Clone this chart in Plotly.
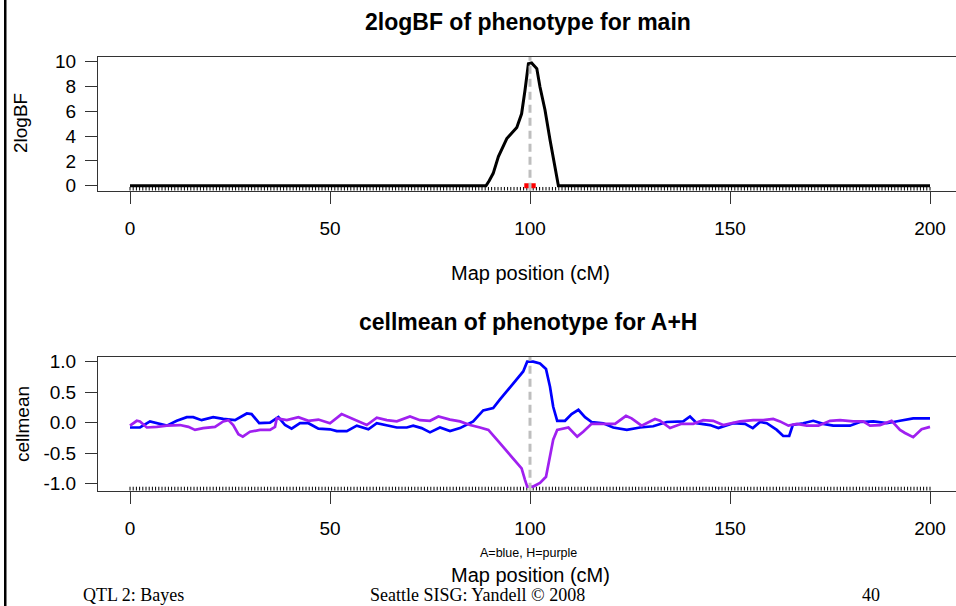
import numpy as np
import plotly.graph_objects as go

# 2logBF profile along the chromosome (cM, 2logBF)
bf_pos = [0, 89.0, 89.8, 90.8, 92.1, 94.2, 96.7, 97.9, 98.75, 99.6, 100.4,
          101.7, 102.5, 103.75, 105.0, 106.25, 107.1, 200]
bf_val = [0, 0, 0.4, 1.0, 2.35, 3.8, 4.7, 5.8, 7.7, 9.84, 9.9,
          9.44, 7.96, 6.1, 3.7, 1.3, 0, 0]

# cell means for genotype A (blue)
a_pos = [0, 2.5, 5, 7.1, 9.2, 11.7, 14.2, 15.8, 17.9, 20.8, 23.3, 26.25, 29.2,
         30.4, 32.3, 35, 37.1, 38.75, 40.4, 42.5, 44.6, 47.1, 50, 51.7, 54.2,
         56.7, 59.6, 61.7, 64.2, 66.7, 69.2, 70.8, 72.9, 75, 77.5, 80, 82.5,
         85.8, 88.3, 90.8, 92.5, 95.8, 98.3, 99.3, 100.8, 102.5, 104, 105,
         105.8, 106.8, 108.75, 110.4, 112.1, 113.75, 115.4, 118.3, 120.8,
         124.2, 127.5, 130.8, 134.2, 138.3, 140, 141.7, 145, 147.1, 150.8,
         153.75, 155.7, 157.5, 159.2, 161.7, 163.3, 164.8, 165.7, 168.3,
         170.8, 173.3, 175.8, 180, 182.5, 185.8, 189.2, 192.5, 195.8, 200]
a_val = [-0.08, -0.08, 0.02, -0.02, -0.05, 0.03, 0.09, 0.09, 0.04, 0.09, 0.06,
         0.04, 0.15, 0.14, -0.01, 0.0, 0.09, -0.04, -0.1, -0.01, -0.01, -0.1,
         -0.11, -0.14, -0.14, -0.05, -0.11, -0.01, -0.05, -0.08, -0.08, -0.05,
         -0.09, -0.16, -0.08, -0.14, -0.09, 0.02, 0.2, 0.24, 0.38, 0.65, 0.84,
         1.0, 1.0, 0.97, 0.88, 0.59, 0.26, 0.03, 0.03, 0.14, 0.21, 0.09, 0.01,
         -0.01, -0.08, -0.12, -0.08, -0.06, 0.01, 0.02, 0.1, -0.01, -0.04,
         -0.09, -0.01, -0.02, -0.09, 0.01, -0.01, -0.12, -0.22, -0.22, -0.04,
         -0.01, 0.03, -0.02, -0.05, -0.05, 0.01, 0.02, -0.01, 0.03, 0.07, 0.07]

# cell means for genotype H (purple)
h_pos = [0, 1.7, 2.5, 4.2, 6.7, 9.2, 12.5, 14.6, 16.25, 18.3, 21.25, 23.3,
         24.6, 25.8, 27.1, 28.2, 30, 32.5, 35, 36.25, 36.7, 39.2, 42.1, 44.6,
         47.1, 50, 52.9, 55.8, 59.2, 61.7, 64.2, 66.7, 70, 72.5, 75, 77.1, 80,
         82.5, 85, 87.5, 89.6, 92.1, 95, 97.9, 98.75, 99.3, 100.8, 102.5, 104,
         105, 105.8, 106.8, 109.6, 111.8, 113.3, 115.4, 119.2, 121.25, 124,
         125.4, 127.9, 131.25, 132.5, 135, 137.9, 140.8, 143.3, 145.8, 148.3,
         152.5, 155.8, 158.3, 160.8, 162.5, 164.6, 166.7, 169.2, 172.1, 175,
         177.5, 180.8, 183.3, 185, 187.5, 190.4, 192.5, 193.75, 195.8, 197.9,
         200]
h_val = [-0.05, 0.03, 0.02, -0.08, -0.07, -0.05, -0.04, -0.07, -0.12, -0.09,
         -0.07, 0.02, 0.04, -0.04, -0.19, -0.23, -0.15, -0.12, -0.12, -0.07,
         0.07, 0.04, 0.09, 0.03, 0.05, -0.01, 0.14, 0.06, -0.04, 0.08, 0.04,
         0.02, 0.1, 0.04, 0.03, 0.1, 0.05, 0.02, -0.04, -0.08, -0.12, -0.31,
         -0.53, -0.75, -0.94, -1.05, -1.05, -0.99, -0.89, -0.56, -0.28, -0.12,
         -0.08, -0.23, -0.15, -0.02, -0.02, -0.02, 0.11, 0.07, -0.05, 0.06,
         0.03, -0.09, -0.02, -0.02, 0.04, 0.03, -0.04, 0.02, 0.04, 0.04, 0.06,
         0.02, -0.05, -0.02, -0.05, -0.05, 0.03, 0.04, 0.02, 0.02, -0.05,
         -0.04, 0.03, -0.12, -0.17, -0.24, -0.11, -0.07]

# estimated QTL location and sampled QTL positions
qtl_pos = 100
qtl_hits = [99.2, 100.8]

# marker / pseudomarker grid shown as a rug
grid_step = 0.8
grid_pos = np.round(np.arange(0, 200 + 1e-9, grid_step), 2)

x_ticks = [0, 50, 100, 150, 200]
bf_ticks = [0, 2, 4, 6, 8, 10]
cm_ticks = [-1.0, -0.5, 0.0, 0.5, 1.0]
cm_tick_text = ["-1.0", "-0.5", "0.0", "0.5", "1.0"]

W, H = 956, 606
SANS = "Liberation Sans, Arial, sans-serif"
SERIF = "Liberation Serif, Times New Roman, serif"
AXIS_COL = "#333333"

bf_range = [-0.4, 10.4]
cm_range = [-1.118, 1.082]
x_range = [-8, 206.5]


def fx(p):
    return p / W


def fy(p):
    return 1 - p / H


def rug(ymin, ymax):
    xs, ys = [], []
    for g in grid_pos:
        xs += [g, g, None]
        ys += [ymin, ymax, None]
    return xs, ys


fig = go.Figure()

# top panel: 2logBF
rx, ry = rug(bf_range[0], bf_range[0] + 0.3)
fig.add_trace(go.Scatter(x=rx, y=ry, mode="lines", line=dict(color="black", width=1),
                         xaxis="x", yaxis="y", hoverinfo="skip"))
fig.add_trace(go.Scatter(x=bf_pos, y=bf_val, mode="lines",
                         line=dict(color="black", width=3), xaxis="x", yaxis="y"))
fig.add_trace(go.Scatter(x=qtl_hits, y=[0] * len(qtl_hits), mode="markers",
                         marker=dict(color="red", size=5, symbol="square"),
                         xaxis="x", yaxis="y"))
fig.add_trace(go.Scatter(x=[qtl_pos, qtl_pos], y=bf_range, mode="lines",
                         line=dict(color="#BEBEBE", width=3, dash="8px,5px"),
                         xaxis="x", yaxis="y"))

# bottom panel: cell means
rx2, ry2 = rug(cm_range[0], cm_range[0] + 0.065)
fig.add_trace(go.Scatter(x=rx2, y=ry2, mode="lines", line=dict(color="black", width=1),
                         xaxis="x2", yaxis="y2", hoverinfo="skip"))
fig.add_trace(go.Scatter(x=a_pos, y=a_val, mode="lines",
                         line=dict(color="#0000FF", width=2.7), xaxis="x2", yaxis="y2"))
fig.add_trace(go.Scatter(x=h_pos, y=h_val, mode="lines",
                         line=dict(color="#A020F0", width=2.7), xaxis="x2", yaxis="y2"))
fig.add_trace(go.Scatter(x=[qtl_pos, qtl_pos], y=cm_range, mode="lines",
                         line=dict(color="#BEBEBE", width=3, dash="8px,5px"),
                         xaxis="x2", yaxis="y2"))

xaxis_common = dict(
    domain=[fx(98), 1], range=x_range, tickvals=x_ticks, ticks="outside",
    ticklen=12, tickwidth=1, tickcolor=AXIS_COL, showline=True, linecolor=AXIS_COL,
    linewidth=1, mirror=True, showgrid=False, zeroline=False, automargin=False,
    tickfont=dict(family=SANS, size=19, color="black"), ticklabelstandoff=8,
)
yaxis_common = dict(
    ticks="outside", ticklen=12, tickwidth=1, tickcolor=AXIS_COL, showline=True,
    linecolor=AXIS_COL, linewidth=1, showgrid=False, zeroline=False, automargin=False,
    tickfont=dict(family=SANS, size=19, color="black"), ticklabelstandoff=5,
)

fig.update_layout(
    template="none",
    width=W, height=H, margin=dict(l=0, r=0, t=0, b=0, pad=0), autosize=False,
    paper_bgcolor="white", plot_bgcolor="white", showlegend=False,
    xaxis=dict(anchor="y", **xaxis_common),
    yaxis=dict(anchor="x", domain=[fy(190.7), fy(56.7)], range=bf_range,
               tickvals=bf_ticks, **yaxis_common),
    xaxis2=dict(anchor="y2", **xaxis_common),
    yaxis2=dict(anchor="x2", domain=[fy(490.7), fy(356.7)], range=cm_range,
                tickvals=cm_ticks, ticktext=cm_tick_text, **yaxis_common),
)


def note(text, x, y, size, bold=False, family=SANS, angle=0, xanchor="center",
         yanchor="middle"):
    fig.add_annotation(
        text=f"<b>{text}</b>" if bold else text, xref="paper", yref="paper",
        x=fx(x), y=fy(y), xanchor=xanchor, yanchor=yanchor, showarrow=False,
        textangle=angle, borderpad=0,
        font=dict(family=family, size=size, color="black"),
    )


note("2logBF of phenotype for main", 528, 22, 23, bold=True)
note("Map position (cM)", 530, 273, 20)
note("2logBF", 21, 123, 19, angle=-90)

note("cellmean of phenotype for A+H", 528, 322, 23, bold=True)
note("cellmean", 22, 424, 19, angle=-90)
note("A=blue, H=purple", 528, 553, 12.5)
note("Map position (cM)", 530, 575, 20)

# slide footer
note("QTL 2: Bayes", 82, 606, 18, family=SERIF, xanchor="left", yanchor="bottom")
note("Seattle SISG: Yandell © 2008", 369, 606, 18, family=SERIF, xanchor="left",
     yanchor="bottom")
note("40", 861, 606, 18, family=SERIF, xanchor="left", yanchor="bottom")

# slide frame edge on the left
fig.add_shape(type="rect", xref="paper", yref="paper", x0=fx(4), x1=fx(6.5),
              y0=0, y1=1, line=dict(width=0), fillcolor="black")

fig.write_html("out.html")
